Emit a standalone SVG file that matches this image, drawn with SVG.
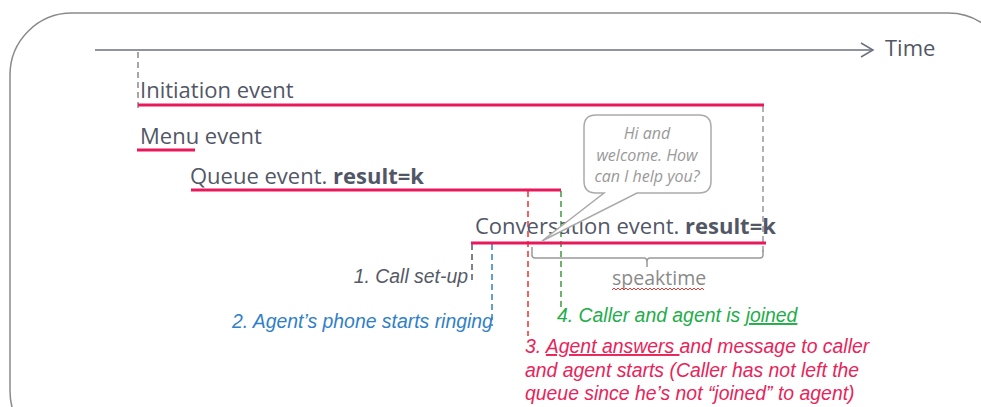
<svg xmlns="http://www.w3.org/2000/svg" width="981" height="407" viewBox="0 0 981 407">
<defs>
<style>
.t{font-family:"Open Sans","Liberation Sans",sans-serif;fill:#525766;font-size:22px}
.b{font-weight:bold}
.lbl{font-family:"Liberation Sans",Arial,sans-serif;font-style:italic;font-size:19.4px}
.ev{stroke:#e8185a;stroke-width:3;fill:none}
.dash{stroke-dasharray:6 4;stroke-width:1.5;fill:none}
</style>
</defs>
<rect x="10" y="13" width="1000" height="440" rx="62" fill="#fff" stroke="#8a8a8a" stroke-width="1.5"/>
<g id="axis">
<line x1="95" y1="50" x2="872" y2="50" stroke="#6b7080" stroke-width="1.5"/>
<path d="M861,43 L873,50 L861,57" fill="none" stroke="#6b7080" stroke-width="1.5"/>
<text class="t" x="885" y="56">Time</text>
</g>
<g id="connectors">
<line x1="138" y1="52" x2="138" y2="110" class="dash" stroke="#8a8a8a"/>
<line x1="763" y1="106" x2="763" y2="252" class="dash" stroke="#999"/>
<line x1="472" y1="244" x2="472" y2="284" class="dash" stroke="#555a66"/>
<line x1="492" y1="244" x2="492" y2="326" class="dash" stroke="#2f80c8"/>
<line x1="528" y1="191" x2="528" y2="336" class="dash" stroke="#ff2a2a"/>
<line x1="561" y1="191" x2="561" y2="308" class="dash" stroke="#3d9a3d"/>
</g>
<g id="initiation">
<text class="t" x="140" y="98">Initiation event</text>
<line x1="138" y1="105" x2="764" y2="105" class="ev"/>
</g>
<g id="menu">
<text class="t" x="140" y="144">Menu event</text>
<line x1="137" y1="150" x2="195" y2="150" class="ev"/>
</g>
<g id="queue">
<text class="t" x="190" y="184">Queue event. <tspan class="b">result=k</tspan></text>
<line x1="191" y1="190" x2="561" y2="190" class="ev"/>
</g>
<g id="conversation">
<text class="t" x="475" y="234">Conversation event. <tspan class="b">result=k</tspan></text>
<line x1="471" y1="243" x2="766" y2="243" class="ev"/>
</g>
<g id="bubble">
<path d="M596,115 H699 Q711,115 711,127 V181 Q711,193 699,193 H637 L542,241 L604,193 H596 Q584,193 584,181 V127 Q584,115 596,115 Z" fill="#fff" stroke="#aaa" stroke-width="1.5"/>
<g font-family="'Open Sans','Liberation Sans',sans-serif" font-style="italic" font-size="16" fill="#999" text-anchor="middle">
<text x="647" y="139">Hi and</text>
<text x="647" y="161">welcome. How</text>
<text x="647" y="182">can I help you?</text>
</g>
</g>
<g id="speaktime">
<path d="M532,247 V255 Q532,258 535,258 H644 Q647,258 647,262 V267 M647,262 Q647,258 650,258 H760 Q763,258 763,255 V250" fill="none" stroke="#999" stroke-width="1.5"/>
<text x="612" y="285" font-family="'Open Sans','Liberation Sans',sans-serif" font-size="19.5" fill="#8a8a8a">speaktime</text>
<path d="M612,290 l2,-2 l2,2 l2,-2 l2,2 l2,-2 l2,2 l2,-2 l2,2 l2,-2 l2,2 l2,-2 l2,2 l2,-2 l2,2 l2,-2 l2,2 l2,-2 l2,2 l2,-2 l2,2 l2,-2 l2,2 l2,-2 l2,2 l2,-2 l2,2 l2,-2 l2,2 l2,-2 l2,2 l2,-2 l2,2 l2,-2 l2,2 l2,-2 l2,2 l2,-2 l2,2 l2,-2 l2,2 l2,-2 l2,2 l2,-2 l2,2 l2,-2 l2,2" fill="none" stroke="#e53935" stroke-width="1"/>
</g>
<g id="step1">
<text class="lbl" x="468" y="283" text-anchor="end" fill="#555a66">1. Call set-up</text>
</g>
<g id="step2">
<text class="lbl" x="232" y="328" fill="#2f80c8">2. Agent’s phone starts ringing</text>
</g>
<g id="step4">
<text class="lbl" x="557" y="322" fill="#22ad4a">4. Caller and agent is <tspan text-decoration="underline">joined</tspan></text>
</g>
<g id="step3" fill="#e8245a">
<text class="lbl" x="525" y="353">3. <tspan text-decoration="underline">Agent answers </tspan>and message to caller</text>
<text class="lbl" x="525" y="377">and agent starts (Caller has not left the</text>
<text class="lbl" x="525" y="400">queue since he’s not “joined” to agent)</text>
</g>
</svg>
